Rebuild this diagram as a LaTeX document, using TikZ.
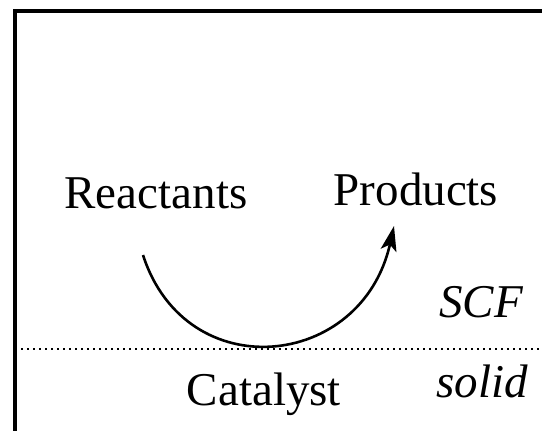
\documentclass[tikz,border=0pt]{standalone}
\usepackage{fontspec}
\setmainfont{Liberation Serif}
\usetikzlibrary{arrows.meta}

\begin{document}
\begin{tikzpicture}[x=1pt,y=-1pt,
		lbl/.style={anchor=base,inner sep=0pt,font=\fontsize{47}{50}\selectfont},
		phase/.style={lbl,font=\fontsize{47}{50}\selectfont\itshape}]
			\useasboundingbox (0,0) rectangle (542,431);

			\draw[line width=3.2pt] (542,11) -- (15,11) -- (15,431);
			\draw[line width=2.4pt,dash pattern=on 2.4pt off 3.6pt] (15,349) -- (542,349);

			\node[lbl] (re) at (156,208) {Reactants};
			\node[lbl] (pr) at (416,205) {Products};
			\node[lbl] (ca) at (264,405) {Catalyst};
			\node[phase] (scf) at (481,317) {SCF};
			\node[phase] (so) at (482,397) {solid};

			\coordinate (a) at (143,255);
			\coordinate (b) at (394,226);
			\draw[line width=2.6pt,-{Stealth[length=25pt,width=16pt,inset=6pt]}] (a) .. controls (186,388) and (362,370) .. (b);
		\end{tikzpicture}
\end{document}
